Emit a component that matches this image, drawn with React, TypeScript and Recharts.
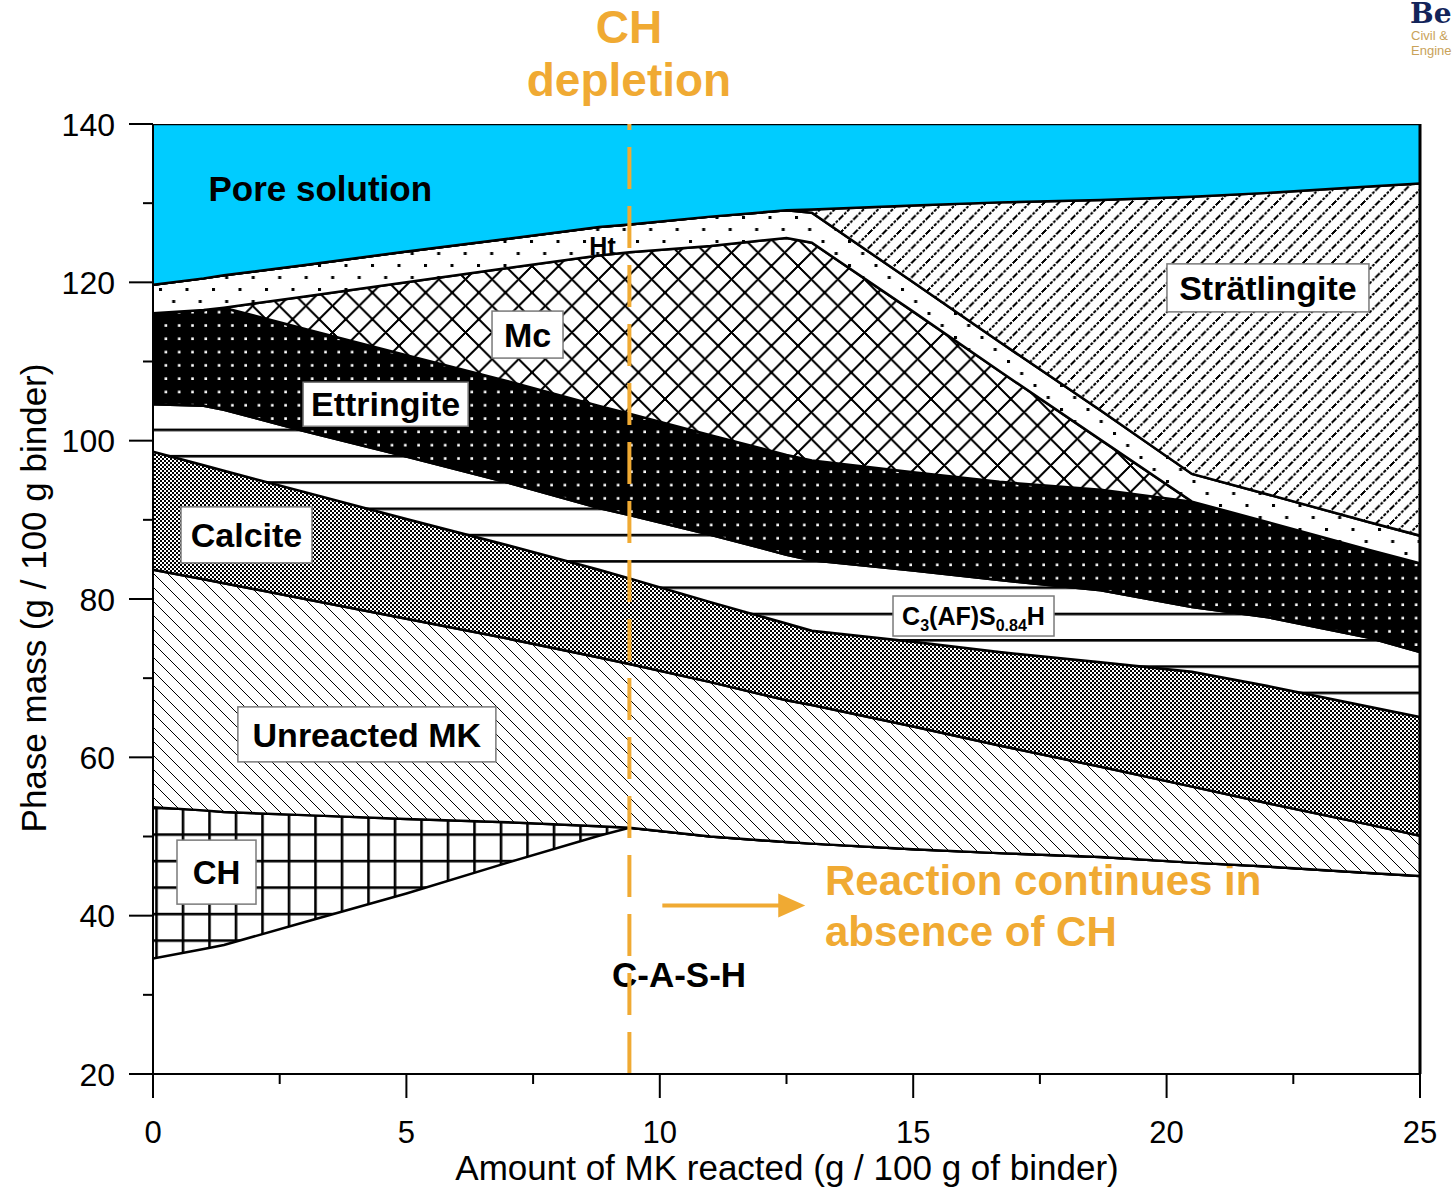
import React from "react";
import { ComposedChart, Area, XAxis, YAxis, ReferenceLine, ReferenceDot } from "recharts";

// amount of MK reacted (g / 100 g binder)
const mkReacted = [0, 1, 1.4, 3, 5, 7, 8.8, 9.4, 11, 12.5, 13, 15, 16.7, 18.7, 20.5, 22, 24, 25];

// cumulative phase mass, upper edge of each layer (g / 100 g binder)
const cashTop = [34.6, 35.8, 36.3, 39.2, 42.8, 46.7, 50.1, 51.1, 50.0, 49.3, 49.1, 48.4, 47.9, 47.4, 46.7, 46.2, 45.4, 45.0];
const chTop = [53.7, 53.3, 53.1, 52.7, 52.2, 51.8, 51.3, 51.1, 50.0, 49.3, 49.1, 48.4, 47.9, 47.4, 46.7, 46.2, 45.4, 45.0];
const mkTop = [83.7, 82.5, 82.0, 80.0, 77.5, 75.0, 72.6, 71.8, 69.5, 67.2, 66.6, 63.9, 61.5, 58.8, 56.3, 54.2, 51.5, 50.1];
const calciteTop = [98.6, 96.9, 96.2, 93.5, 90.1, 86.8, 83.7, 82.6, 79.6, 76.9, 76.0, 74.6, 73.3, 72.0, 70.8, 69.0, 66.4, 65.1];
const c3afsTop = [104.6, 104.4, 103.9, 101.2, 98.0, 94.7, 91.5, 90.6, 88.1, 85.6, 84.9, 83.6, 82.4, 81.1, 79.0, 77.7, 75.1, 73.3];
const ettringiteTop = [116.1, 116.5, 116.8, 114.1, 110.8, 107.5, 104.4, 103.4, 100.7, 98.2, 97.5, 96.0, 94.8, 93.8, 92.3, 89.7, 86.2, 84.5];
const mcTop = [116.1, 116.5, 116.8, 118.2, 120.0, 121.8, 123.4, 123.8, 124.6, 125.6, 125.0, 116.3, 108.8, 100.1, 92.3, 89.7, 86.2, 84.5];
const htTop = [119.7, 120.5, 120.9, 122.2, 123.9, 125.5, 127.0, 127.3, 128.3, 129.1, 128.8, 120.0, 112.5, 103.8, 95.8, 93.2, 89.7, 88.0];
const stratlingiteTop = [119.7, 120.5, 120.9, 122.2, 123.9, 125.5, 127.0, 127.3, 128.3, 129.1, 129.2, 129.7, 130.1, 130.4, 130.8, 131.3, 132.1, 132.5];
const poreTop = 140;

const chDepletion = 9.4;
const xTicks = [0, 2.5, 5, 7.5, 10, 12.5, 15, 17.5, 20, 22.5, 25];
const yTicks = [20, 30, 40, 50, 60, 70, 80, 90, 100, 110, 120, 130, 140];

const data = mkReacted.map((u, i) => ({
  u,
  cash: cashTop[i],
  ch: chTop[i],
  mk: mkTop[i],
  calcite: calciteTop[i],
  c3afs: c3afsTop[i],
  ett: ettringiteTop[i],
  mc: mcTop[i],
  ht: htTop[i],
  strat: stratlingiteTop[i],
  pore: poreTop,
}));

const layers = [
  { name: "CH", lo: "cash", hi: "ch", fill: "url(#pCH)" },
  { name: "Unreacted MK", lo: "ch", hi: "mk", fill: "url(#pMK)" },
  { name: "Calcite", lo: "mk", hi: "calcite", fill: "url(#pCalcite)" },
  { name: "C3(AF)S0.84H", lo: "calcite", hi: "c3afs", fill: "url(#pC3AFS)" },
  { name: "Ettringite", lo: "c3afs", hi: "ett", fill: "url(#pEtt)" },
  { name: "Mc", lo: "ett", hi: "mc", fill: "url(#pMc)" },
  { name: "Ht", lo: "mc", hi: "ht", fill: "url(#pHt)" },
  { name: "Strätlingite", lo: "ht", hi: "strat", fill: "url(#pStrat)" },
  { name: "Pore solution", lo: "strat", hi: "pore", fill: "#00CCFF" },
];

const FONT = "'Liberation Sans', Arial, Helvetica, sans-serif";
const ORANGE = "#F0AA33";

// phase labels, placed at (amount reacted, phase mass)
const phaseLabels = [
  { text: "Pore solution", u: 3.3, v: 131.8, w: 0, h: 0, size: 35 },
  { text: "Ht", u: 8.87, v: 124.6, w: 0, h: 0, size: 25 },
  { text: "Mc", u: 7.39, v: 113.4, w: 71, h: 47, size: 34 },
  { text: "Ettringite", u: 4.59, v: 104.6, w: 165, h: 44, size: 34 },
  { text: "Calcite", u: 1.845, v: 88.1, w: 131, h: 56, size: 34 },
  { text: "Unreacted MK", u: 4.22, v: 62.9, w: 258, h: 55, size: 34 },
  { text: "CH", u: 1.253, v: 45.5, w: 79, h: 64, size: 33 },
  { text: "Strätlingite", u: 22.0, v: 119.3, w: 202, h: 48, size: 34 },
  { text: "C3(AF)S0.84H", u: 16.19, v: 77.85, w: 161, h: 40, size: 25 },
];

const XTick = (props: any) => {
  const { x, y, payload } = props;
  const major = payload.value % 5 === 0;
  return (
    <g>
      <line x1={x} y1={y} x2={x} y2={y + (major ? 24 : 10)} stroke="#000" strokeWidth={2} />
      {major && (
        <text x={x} y={y + 69} textAnchor="middle" fontSize={31} fontFamily={FONT} fill="#000">
          {payload.value}
        </text>
      )}
    </g>
  );
};

const YTick = (props: any) => {
  const { x, y, payload } = props;
  const major = payload.value % 20 === 0;
  return (
    <g>
      <line x1={x} y1={y} x2={x - (major ? 24 : 10)} y2={y} stroke="#000" strokeWidth={2} />
      {major && (
        <text x={x - 38} y={y + 11.5} textAnchor="end" fontSize={32} fontFamily={FONT} fill="#000">
          {payload.value}
        </text>
      )}
    </g>
  );
};

const Arrow = (p: any) => {
  const { x1, y1, x2, y2 } = p;
  return (
    <g>
      <line x1={x1} y1={y1} x2={x2 - 20} y2={y2} stroke={ORANGE} strokeWidth={4} />
      <polygon points={`${x2},${y2} ${x2 - 27},${y2 - 12} ${x2 - 27},${y2 + 12}`} fill={ORANGE} />
    </g>
  );
};

const LabelShape = (lab: any) => (p: any) => {
  const { cx, cy } = p;
  const base = cy + lab.size * 0.358;
  const content =
    lab.text === "C3(AF)S0.84H" ? (
      <>
        C<tspan fontSize={16} dy={6}>3</tspan>
        <tspan dy={-6}>(AF)S</tspan>
        <tspan fontSize={16} dy={6}>0.84</tspan>
        <tspan dy={-6}>H</tspan>
      </>
    ) : (
      lab.text
    );
  return (
    <g fontFamily={FONT} fontWeight="bold">
      {lab.w > 0 && (
        <rect x={cx - lab.w / 2} y={cy - lab.h / 2} width={lab.w} height={lab.h} fill="#fff" stroke="#7a7a7a" strokeWidth={1.5} />
      )}
      <text x={cx} y={base} textAnchor="middle" fontSize={lab.size} fill="#000">
        {content}
      </text>
    </g>
  );
};

const Annotations = () => (
  <g fontFamily={FONT} fontWeight="bold">
    <text x={612} y={987} fontSize={35} fill="#000">C-A-S-H</text>
    <text x={629} y={43} textAnchor="middle" fontSize={46} fill={ORANGE}>CH</text>
    <text x={629} y={96} textAnchor="middle" fontSize={46} fill={ORANGE}>depletion</text>
    <text x={825} y={895} fontSize={42} fill={ORANGE}>Reaction continues in</text>
    <text x={825} y={946} fontSize={42} fill={ORANGE}>absence of CH</text>
  </g>
);

const Titles = () => (
  <g fontFamily={FONT} fill="#000">
    <text x={46} y={598} transform="rotate(-90 46 598)" textAnchor="middle" fontSize={35}>
      Phase mass (g / 100 g binder)
    </text>
    <text x={787} y={1180} textAnchor="middle" fontSize={35}>
      Amount of MK reacted (g / 100 g of binder)
    </text>
    <text x={1410} y={23} fontSize={28} fontFamily="'DejaVu Serif', serif" fontWeight="bold" fill="#13245A">Be</text>
    <text x={1411} y={40} fontSize={13} fill="#C9A25A">Civil &amp;</text>
    <text x={1411} y={55} fontSize={13} fill="#C9A25A">Engine</text>
  </g>
);

export default function App() {
  return (
    <div style={{ position: "absolute", left: 0, top: 0, width: 1455, height: 1189, overflow: "hidden", background: "#fff" }}>
      <ComposedChart
        width={1455}
        height={1189}
        data={data}
        margin={{ top: 124, right: 35, bottom: 85, left: 93 }}
      >
        <defs>
          <pattern id="pCH" patternUnits="userSpaceOnUse" width="26.5" height="26.5" x="22.7" y="11.8">
            <rect width="26.5" height="26.5" fill="#fff" />
            <rect x="0" y="0" width="2.6" height="26.5" fill="#000" />
            <rect x="0" y="0" width="26.5" height="2.6" fill="#000" />
          </pattern>
          <pattern id="pMK" patternUnits="userSpaceOnUse" width="14" height="14">
            <rect width="14" height="14" fill="#fff" />
            <path d="M0,0 L14,14 M-1,13 L1,15 M13,-1 L15,1" stroke="#000" strokeWidth="1.2" shapeRendering="crispEdges" />
          </pattern>
          <pattern id="pCalcite" patternUnits="userSpaceOnUse" width="4" height="4">
            <rect width="4" height="4" fill="#fff" />
            <rect x="0" y="0" width="2" height="2" fill="#000" />
            <rect x="2" y="2" width="2" height="2" fill="#000" />
          </pattern>
          <pattern id="pC3AFS" patternUnits="userSpaceOnUse" width="40" height="26.3">
            <rect width="40" height="26.3" fill="#fff" />
            <rect x="0" y="7.8" width="40" height="2.6" fill="#000" />
          </pattern>
          <pattern id="pEtt" patternUnits="userSpaceOnUse" width="13.3" height="13.3">
            <rect width="13.3" height="13.3" fill="#000" />
            <rect x="5" y="5" width="2.6" height="2.6" fill="#fff" />
          </pattern>
          <pattern id="pMc" patternUnits="userSpaceOnUse" width="26.6" height="26.6">
            <rect width="26.6" height="26.6" fill="#fff" />
            <path d="M0,0 L26.6,26.6 M26.6,0 L0,26.6" stroke="#000" strokeWidth="1.6" shapeRendering="crispEdges" />
            <rect x="11.8" y="11.8" width="3" height="3" fill="#000" />
            <rect x="-1.5" y="-1.5" width="3" height="3" fill="#000" />
            <rect x="25.1" y="-1.5" width="3" height="3" fill="#000" />
            <rect x="-1.5" y="25.1" width="3" height="3" fill="#000" />
            <rect x="25.1" y="25.1" width="3" height="3" fill="#000" />
          </pattern>
          <pattern id="pHt" patternUnits="userSpaceOnUse" width="26.5" height="24">
            <rect width="26.5" height="24" fill="#fff" />
            <rect x="0" y="0" width="3" height="3" fill="#000" />
            <rect x="13.2" y="12" width="3" height="3" fill="#000" />
          </pattern>
          <pattern id="pStrat" patternUnits="userSpaceOnUse" width="14.5" height="14.5">
            <rect width="14.5" height="14.5" fill="#fff" />
            <path d="M0,14.5 L14.5,0 M-1,1 L1,-1 M13.5,15.5 L15.5,13.5" stroke="#000" strokeWidth="1.5" strokeDasharray="3 1.4" shapeRendering="crispEdges" />
          </pattern>
        </defs>

        {layers.map((l) => (
          <Area
            key={l.name}
            name={l.name}
            type="linear"
            dataKey={(d: any) => [d[l.lo], d[l.hi]]}
            stroke="#000"
            strokeWidth={2.5}
            fill={l.fill}
            fillOpacity={1}
            dot={false}
            activeDot={false}
            isAnimationActive={false}
          />
        ))}

        <XAxis
          type="number"
          dataKey="u"
          domain={[0, 25]}
          ticks={xTicks}
          interval={0}
          height={30}
          tickSize={0}
          tickMargin={0}
          tickLine={false}
          axisLine={{ stroke: "#000", strokeWidth: 2 }}
          tick={<XTick />}
          allowDataOverflow
        />
        <YAxis
          type="number"
          domain={[20, 140]}
          ticks={yTicks}
          interval={0}
          width={60}
          tickSize={0}
          tickMargin={0}
          tickLine={false}
          axisLine={{ stroke: "#000", strokeWidth: 2 }}
          tick={<YTick />}
          allowDataOverflow
        />

        <Annotations />

        {phaseLabels.map((lab) => (
          <ReferenceDot
            key={lab.text}
            x={lab.u}
            y={lab.v}
            r={0}
            ifOverflow="visible"
            shape={LabelShape(lab)}
          />
        ))}

        <ReferenceLine x={25} stroke="#000" strokeWidth={3} />
        <ReferenceLine x={chDepletion} stroke={ORANGE} strokeWidth={4} strokeDasharray="42 17" />
        <ReferenceLine
          segment={[
            { x: 10.05, y: 41.3 },
            { x: 12.87, y: 41.3 },
          ]}
          shape={<Arrow />}
        />

        <Titles />
      </ComposedChart>
    </div>
  );
}
